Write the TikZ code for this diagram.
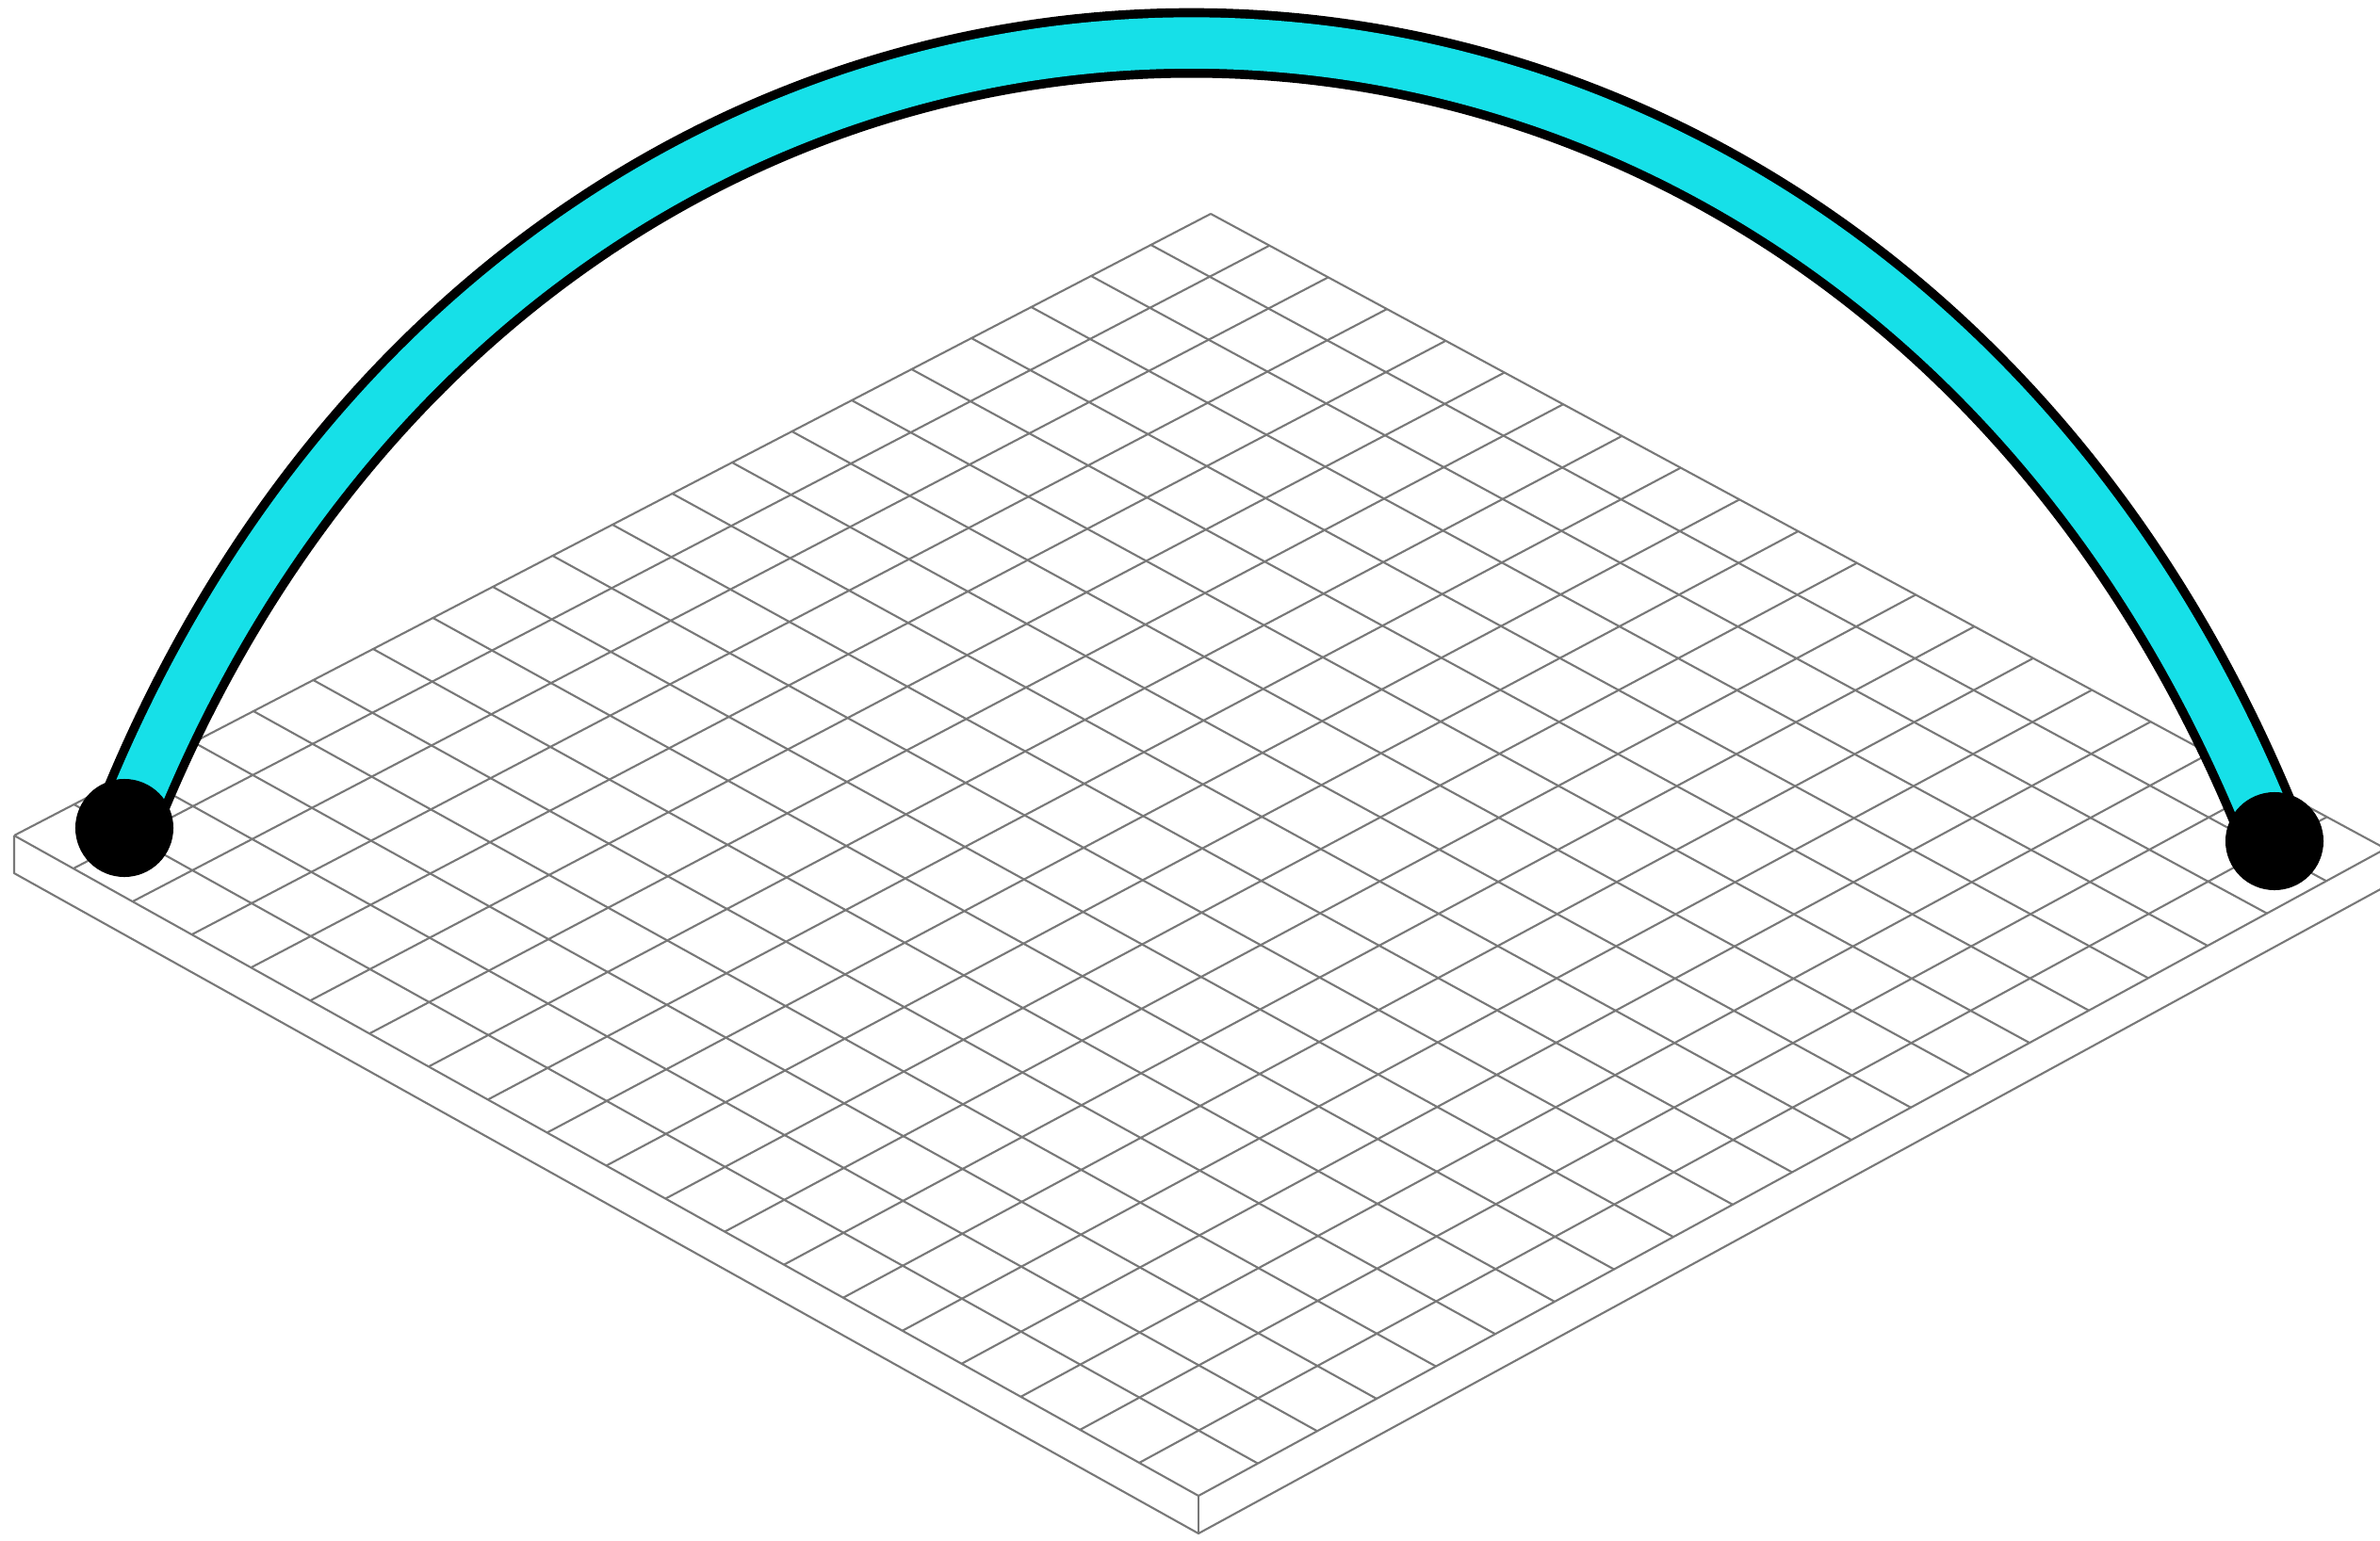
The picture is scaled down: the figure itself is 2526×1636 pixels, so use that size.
\documentclass[tikz,border=0pt]{standalone}
\usepackage{xcolor}
\usepackage{tikz}
\usetikzlibrary{calc,backgrounds}
\definecolor{tubecyan}{RGB}{22,224,232}
\definecolor{gridgray}{RGB}{120,120,120}

\begin{document}
\begin{tikzpicture}[x=0.01cm,y=-0.01cm,
  gridline/.style={draw=gridgray,line width=0.6pt,line join=round},
  dot/.style={circle,fill=black,inner sep=0pt,minimum size=1.04cm},
  tubeout/.style={draw=black,line width=21pt},
  tubein/.style={draw=tubecyan,line width=15.5pt}]
\useasboundingbox (0,0) rectangle (2526,1636);
% plate corners (top face)
\coordinate (T) at (1285,227);
\coordinate (L) at (15,887);
\coordinate (B) at (1272,1588);
\coordinate (R) at (2532,901);
\node[dot] (ldot) at (132,879) {};
\node[dot] (rdot) at (2414,893) {};
\begin{scope}[on background layer]
\foreach \i in {0,...,20}{
  \draw[gridline] ($(T)!\i/20!(L)$) -- ($(R)!\i/20!(B)$);
  \draw[gridline] ($(T)!\i/20!(R)$) -- ($(L)!\i/20!(B)$);}
\draw[gridline] (L) -- ++(0,40) -- ($(B)+(0,40)$) -- ($(R)+(0,40)$) -- (R);
\draw[gridline] (B) -- ++(0,40);
\draw[tubeout] (ldot.center) .. controls +(440,-1120) and +(-440,-1121) .. (rdot.center);
\draw[tubein] (ldot.center) .. controls +(440,-1120) and +(-440,-1121) .. (rdot.center);
\end{scope}
\end{tikzpicture}
\end{document}
